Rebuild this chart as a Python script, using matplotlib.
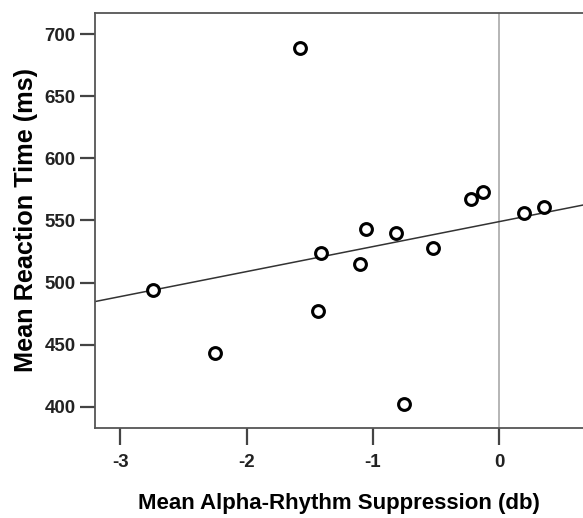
import matplotlib
matplotlib.use("Agg")
import matplotlib.pyplot as plt
import numpy as np

# values
suppression = [-2.74, -2.25, -1.58, -1.41, -1.43, -1.10, -1.055, -0.82,
               -0.75, -0.525, -0.224, -0.127, 0.198, 0.356]
reaction_time = [494, 443.5, 688.5, 524, 477, 515, 542.7, 540,
                 402.5, 528, 567, 572.6, 555.7, 560.5]
fit_intercept = 549.0
fit_slope = 20.1
x_ticks = [-3, -2, -1, 0]
y_ticks = [400, 450, 500, 550, 600, 650, 700]

plt.rcParams["font.family"] = ["Liberation Sans", "DejaVu Sans"]
plt.rcParams["axes.unicode_minus"] = False

fig = plt.figure(figsize=(5.83, 5.18), dpi=100)
ax = fig.add_axes([0.163, 0.174, 0.837, 0.801])

xlim = (-3.2, 0.665)
ax.set_xlim(*xlim)
ax.set_ylim(383, 717)

ax.axvline(0, color="#b0b0b0", lw=1.3, zorder=1)

xs = np.array(xlim)
ax.plot(xs, fit_intercept + fit_slope * xs, color="#333333", lw=1.1, zorder=2)

ax.plot(suppression, reaction_time, "o", ms=8.5, mfc="white",
        mec="black", mew=2.2, zorder=3, clip_on=False)

for side in ["left", "bottom", "top"]:
    ax.spines[side].set_color("#555555")
    ax.spines[side].set_linewidth(1.3)
ax.spines["right"].set_visible(False)

ax.set_xticks(x_ticks)
ax.set_yticks(y_ticks)
ax.tick_params(axis="x", length=12.5, pad=6)
ax.tick_params(axis="y", length=11, pad=3)
ax.tick_params(direction="out", width=1.6, color="#444444", labelsize=13.5)
for lab in ax.get_xticklabels() + ax.get_yticklabels():
    lab.set_fontweight("bold")
    lab.set_color("#222222")

ax.set_xlabel("Mean Alpha-Rhythm Suppression (db)",
              fontsize=16, fontweight="bold", labelpad=16)
ax.set_ylabel("Mean Reaction Time (ms)",
              fontsize=18.2, fontweight="bold", labelpad=5)

fig.savefig("out.png", dpi=100)
